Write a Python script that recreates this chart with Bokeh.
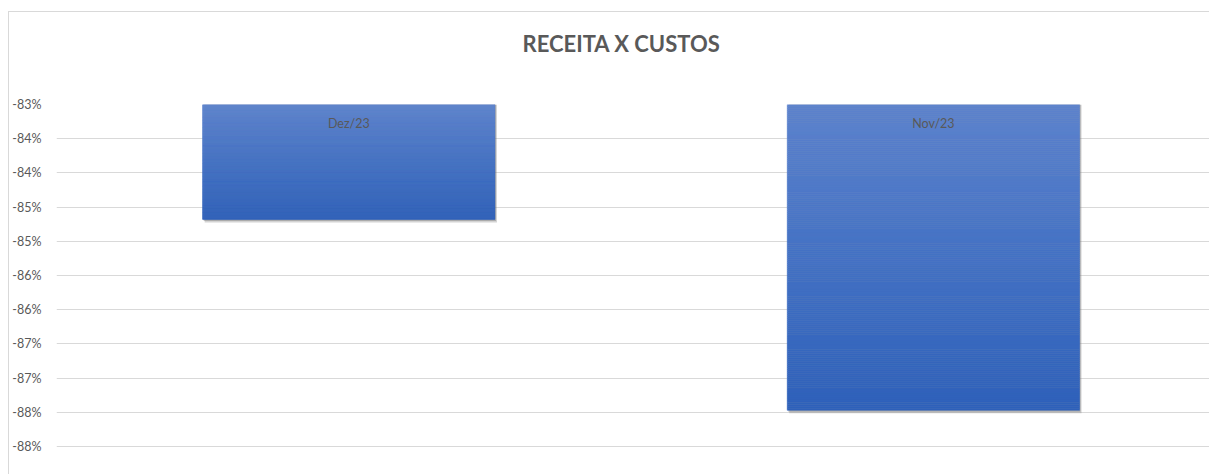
import numpy as np
from bokeh.plotting import figure
from bokeh.models import FixedTicker, Range1d, Title
from bokeh.core.properties import value
from bokeh.embed import file_html
from bokeh.resources import INLINE

# ---- data ----
categories = ["Dez/23", "Nov/23"]
values = [-84.68, -87.47]          # percent
y_ticks = [-83.0, -83.5, -84.0, -84.5, -85.0, -85.5, -86.0, -86.5, -87.0, -87.5, -88.0]
y_tick_labels = ["-83%", "-84%", "-84%", "-85%", "-85%", "-86%", "-86%", "-87%", "-87%", "-88%", "-88%"]
title_text = "RECEITA X CUSTOS"

axis_top = -83.0
axis_bottom = -88.35

p = figure(width=1201, height=463, output_backend="svg", toolbar_location=None,
           x_range=Range1d(0, 1.974), y_range=Range1d(axis_bottom, axis_top),
           min_border_left=45, min_border_right=0, min_border_top=92, min_border_bottom=5)
p.styles = {"border-left": "1px solid #d9d9d9", "border-top": "1px solid #d9d9d9",
            "margin-top": "11px", "margin-left": "8px"}
p.title.text = ""

# spacer (closest to frame) then the real title further out
p.add_layout(Title(text=" ", text_font_size="1px", standoff=45), "above")
p.add_layout(Title(text=title_text, align="left", offset=466, standoff=0, text_font="Lato",
                   text_font_size="22px", text_font_style="bold", text_color="#595959"), "above")

p.outline_line_color = None
p.background_fill_color = "white"
p.border_fill_color = "white"
p.xaxis.visible = False
p.xgrid.grid_line_color = None
p.ygrid.grid_line_color = "#d9d9d9"
p.ygrid.grid_line_width = 1

p.yaxis.ticker = FixedTicker(ticks=y_ticks)
p.yaxis.major_label_overrides = {t: l for t, l in zip(y_ticks, y_tick_labels)}
p.yaxis.axis_line_color = None
p.yaxis.major_tick_line_color = None
p.yaxis.minor_tick_line_color = None
p.yaxis.major_label_standoff = 9
p.yaxis.major_label_text_font = "Lato"
p.yaxis.major_label_text_font_size = "12.5px"
p.yaxis.major_label_text_color = "#595959"

xs = np.arange(len(categories)) + 0.5
bar_w = 0.5

# shadow
px_x = 1.0 / 585.5
px_y = 1.0 / 68.4
p.vbar(x=xs + 2 * px_x, width=bar_w, top=[axis_top] * len(xs),
       bottom=np.array(values) - 3 * px_y, fill_color="#808080", fill_alpha=0.35, line_color=None)
p.vbar(x=xs + 1 * px_x, width=bar_w, top=[axis_top] * len(xs),
       bottom=np.array(values) - 1.5 * px_y, fill_color="#606060", fill_alpha=0.35, line_color=None)

# gradient bars
stops = [(0.0, (0x5D, 0x83, 0xCD)), (0.5, (0x44, 0x72, 0xC4)), (1.0, (0x2F, 0x61, 0xBA))]

def grad(t):
    for (t0, c0), (t1, c1) in zip(stops[:-1], stops[1:]):
        if t <= t1:
            f = (t - t0) / (t1 - t0)
            return "#%02x%02x%02x" % tuple(int(round(a + (b - a) * f)) for a, b in zip(c0, c1))
    return "#%02x%02x%02x" % stops[-1][1]

N = 150
seg_x, seg_top, seg_bot, seg_col = [], [], [], []
for x, v in zip(xs, values):
    edges = np.linspace(axis_top, v, N + 1)
    for i in range(N):
        seg_x.append(x)
        seg_top.append(edges[i])
        seg_bot.append(edges[i + 1])
        seg_col.append(grad((i + 0.5) / N))
p.vbar(x=seg_x, width=bar_w, top=seg_top, bottom=seg_bot, fill_color=seg_col,
       line_color=seg_col, line_width=0.5)

p.text(x=xs, y=[axis_top] * len(xs), text=categories, text_align="center", text_baseline="top",
       y_offset=11, text_font=value("Lato"), text_font_size="12.5px", text_color="#595959")

open("out.html", "w").write(file_html(p, INLINE))
